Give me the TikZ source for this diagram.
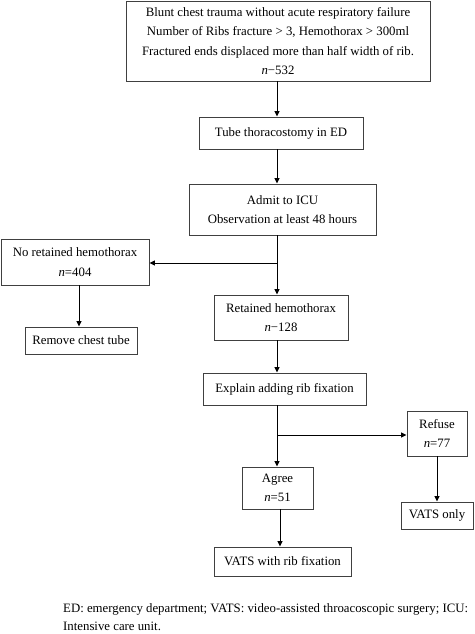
\documentclass[tikz,border=0pt]{standalone}
\usepackage{fontspec}
\setmainfont{Liberation Serif}
\usetikzlibrary{arrows.meta}
\begin{document}
\begin{tikzpicture}[x=1pt,y=-1pt,
  box/.style={draw=black!75,line width=0.9pt,inner sep=0pt,align=center,
    font=\fontsize{12.8}{19.3}\selectfont},
  conn/.style={line width=1pt,-{Triangle[width=5pt,length=5.5pt]}},
  plain/.style={line width=1pt}]
\useasboundingbox (0,0) rectangle (474,634);
\node[box,minimum width=304pt,minimum height=80pt] (top) at (278,41)
  {Blunt chest trauma without acute respiratory failure\\
   Number of Ribs fracture > 3, Hemothorax > 300ml\\
   Fractured ends displaced more than half width of rib.\\
   \textit{n}−532};
\node[box,minimum width=164pt,minimum height=32pt] (tube) at (281,133) {Tube thoracostomy in ED};
\node[box,minimum width=187pt,minimum height=51pt] (admit) at (282.5,209.5) {Admit to ICU\\Observation at least 48 hours};
\node[box,minimum width=148pt,minimum height=46pt] (noret) at (75,262) {No retained hemothorax\\\textit{n}=404};
\node[box,minimum width=112pt,minimum height=27pt] (remove) at (81,340.5) {Remove chest tube};
\node[box,minimum width=134pt,minimum height=45pt] (ret) at (281,317.5) {Retained hemothorax\\\textit{n}−128};
\node[box,minimum width=163pt,minimum height=32pt] (explain) at (284.5,389) {Explain adding rib fixation};
\node[box,minimum width=60pt,minimum height=45pt] (refuse) at (437,433.5) {Refuse\\\textit{n}=77};
\node[box,minimum width=71pt,minimum height=42pt] (agree) at (277.5,488) {Agree\\\textit{n}=51};
\node[box,minimum width=72pt,minimum height=27pt] (vonly) at (437,515.5) {VATS only};
\node[box,minimum width=137pt,minimum height=29pt] (vrib) at (282.5,561.5) {VATS with rib fixation};
\node[anchor=north west,inner sep=0pt,align=left,font=\fontsize{12.8}{18}\selectfont] (note) at (63,603)
  {ED: emergency department; VATS: video-assisted throacoscopic surgery; ICU:\\Intensive care unit.};
\coordinate (sp) at (277,0);
\coordinate (b1) at (277,263);
\coordinate (b2) at (277,435);
\draw[conn] (top.south -| sp) -- (tube.north -| sp);
\draw[conn] (tube.south -| sp) -- (admit.north -| sp);
\draw[conn] (admit.south -| sp) -- (ret.north -| sp);
\draw[conn] (b1) -- (noret.east |- b1);
\draw[conn] (noret.south -| 79,0) -- (remove.north -| 79,0);
\draw[conn] (ret.south -| sp) -- (explain.north -| sp);
\draw[conn] (explain.south -| sp) -- (agree.north -| sp);
\draw[conn] (b2) -- (refuse.west |- b2);
\draw[conn] (refuse.south) -- (vonly.north);
\draw[conn] (agree.south -| 280,0) -- (vrib.north -| 280,0);
\end{tikzpicture}
\end{document}
